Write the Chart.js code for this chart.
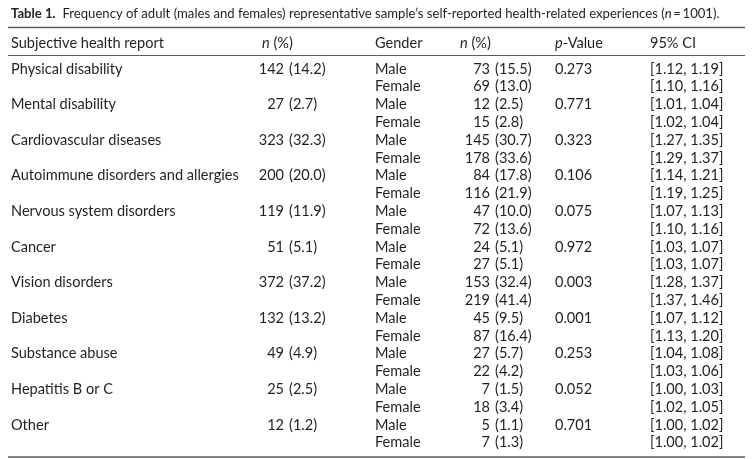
<!DOCTYPE html>
<html>
<head>
<meta charset="utf-8">
<script src="https://cdn.jsdelivr.net/npm/chart.js@4.4.1/dist/chart.umd.min.js"></script>
<style>
html,body{margin:0;padding:0;background:#fff;}
#wrap{width:753px;height:459px;}
canvas{display:block;}
</style>
</head>
<body>
<div id="wrap"><canvas id="c" width="753" height="459"></canvas></div>
<script>
// ---- data ----
const conditions = ['Physical disability','Mental disability','Cardiovascular diseases','Autoimmune disorders and allergies','Nervous system disorders','Cancer','Vision disorders','Diabetes','Substance abuse','Hepatitis B or C','Other'];
const totalCount = [142,27,323,200,119,51,372,132,49,25,12];
const totalPct   = [14.2,2.7,32.3,20.0,11.9,5.1,37.2,13.2,4.9,2.5,1.2];
const genders = ['Male','Female'];
const maleCount  = [73,12,145,84,47,24,153,45,27,7,5];
const malePct    = [15.5,2.5,30.7,17.8,10.0,5.1,32.4,9.5,5.7,1.5,1.1];
const femaleCount= [69,15,178,116,72,27,219,87,22,18,7];
const femalePct  = [13.0,2.8,33.6,21.9,13.6,5.1,41.4,16.4,4.2,3.4,1.3];
const pValues    = [0.273,0.771,0.323,0.106,0.075,0.972,0.003,0.001,0.253,0.052,0.701];
const maleCILow  = [1.12,1.01,1.27,1.14,1.07,1.03,1.28,1.07,1.04,1.00,1.00];
const maleCIHigh = [1.19,1.04,1.35,1.21,1.13,1.07,1.37,1.12,1.08,1.03,1.02];
const femaleCILow  = [1.10,1.02,1.29,1.19,1.10,1.03,1.37,1.13,1.03,1.02,1.00];
const femaleCIHigh = [1.16,1.04,1.37,1.25,1.16,1.07,1.46,1.20,1.06,1.05,1.02];
const sampleSize = 1001;
const headerLabels = ['Subjective health report','n (%)','Gender','n (%)','p-Value','95% CI'];

// ---- build table rows from the arrays ----
const rows = [];
conditions.forEach((c, i) => {
  rows.push({
    id: c + ' | ' + genders[0], cond: c,
    total: [totalCount[i], totalPct[i]], gender: genders[0],
    n: [maleCount[i], malePct[i]], p: pValues[i], ci: [maleCILow[i], maleCIHigh[i]]
  });
  rows.push({
    id: c + ' | ' + genders[1], cond: '',
    total: null, gender: genders[1],
    n: [femaleCount[i], femalePct[i]], p: null, ci: [femaleCILow[i], femaleCIHigh[i]]
  });
});

// ---- layout (pixels / x-scale units) ----
const FONT = 'Lato';
const TEXT = '#231f20';
const RULE = '#5a5a5a';
const COL = { subj: 11, totNumR: 284, totParL: 289, gender: 375, nNumR: 490, nParL: 495, p: 555, ci: 650 };
const Y = { title: 14, topRule: 27.5, header: 43, headRule: 55.5, bottomRule: 457 };
const RULE_X = [8, 745];
const TITLE_RIGHT = 720;

function runs(ctx, parts, x, y, size, measureOnly) {
  let cx = x;
  parts.forEach(p => {
    ctx.font = (p.i ? 'italic ' : '') + (p.b ? 'bold ' : '') + size + 'px ' + FONT;
    if (!measureOnly) ctx.fillText(p.t, cx, y);
    cx += ctx.measureText(p.t).width;
  });
  return cx - x;
}

const tablePlugin = {
  id: 'tableText',
  afterDraw(chart) {
    const ctx = chart.ctx;
    const xs = chart.scales.x, ys = chart.scales.y;
    const X = v => xs.getPixelForValue(v);
    ctx.save();
    // fit font size to the reference width of the first header cell
    ctx.font = '13px ' + FONT;
    const size = +(13 * 153 / ctx.measureText(headerLabels[0]).width).toFixed(2);
    ctx.fillStyle = TEXT;
    ctx.textBaseline = 'middle';
    ctx.textAlign = 'left';

    // title (fitted to the reference title width)
    const titleParts = [
      {t: 'Table 1.', b: true},
      {t: '  Frequency of adult (males and females) representative sample\u2019s self-reported health-related experiences ('},
      {t: 'n', i: true},
      {t: '\u2009=\u2009' + sampleSize + ').'}
    ];
    const tw = runs(ctx, titleParts, 0, 0, size, true);
    const tSize = +(size * Math.min(1, (TITLE_RIGHT - COL.subj) / tw)).toFixed(2);
    runs(ctx, titleParts, X(COL.subj), Y.title, tSize);

    // rules
    ctx.strokeStyle = RULE;
    [[Y.topRule, 1.3], [Y.headRule, 1], [Y.bottomRule, 1.3]].forEach(([yy, lw]) => {
      ctx.lineWidth = lw;
      ctx.beginPath();
      ctx.moveTo(X(RULE_X[0]), yy);
      ctx.lineTo(X(RULE_X[1]), yy);
      ctx.stroke();
    });

    // header
    ctx.fillStyle = TEXT;
    runs(ctx, [{t: headerLabels[0]}], X(COL.subj), Y.header, size);
    runs(ctx, [{t: 'n', i: true}, {t: headerLabels[1].slice(1)}], X(COL.totNumR) - 22, Y.header, size);
    runs(ctx, [{t: headerLabels[2]}], X(COL.gender), Y.header, size);
    runs(ctx, [{t: 'n', i: true}, {t: headerLabels[3].slice(1)}], X(COL.nNumR) - 30, Y.header, size);
    runs(ctx, [{t: 'p', i: true}, {t: headerLabels[4].slice(1)}], X(COL.p), Y.header, size);
    runs(ctx, [{t: headerLabels[5]}], X(COL.ci), Y.header, size);

    // body
    ctx.font = size + 'px ' + FONT;
    rows.forEach((r, i) => {
      const y = ys.getPixelForValue(i);
      ctx.textAlign = 'left';
      if (r.cond) ctx.fillText(r.cond, X(COL.subj), y);
      if (r.total) {
        ctx.textAlign = 'right';
        ctx.fillText(String(r.total[0]), X(COL.totNumR), y);
        ctx.textAlign = 'left';
        ctx.fillText('(' + r.total[1].toFixed(1) + ')', X(COL.totParL), y);
      }
      ctx.fillText(r.gender, X(COL.gender), y);
      ctx.textAlign = 'right';
      ctx.fillText(String(r.n[0]), X(COL.nNumR), y);
      ctx.textAlign = 'left';
      ctx.fillText('(' + r.n[1].toFixed(1) + ')', X(COL.nParL), y);
      if (r.p !== null) ctx.fillText(r.p.toFixed(3), X(COL.p), y);
      ctx.fillText('[' + r.ci[0].toFixed(2) + ', ' + r.ci[1].toFixed(2) + ']', X(COL.ci), y);
    });
    ctx.restore();
  }
};

new Chart(document.getElementById('c'), {
  type: 'bar',
  data: {
    labels: rows.map(r => r.id),
    datasets: [{ label: 'rows', data: rows.map(() => null) }]
  },
  options: {
    indexAxis: 'y',
    responsive: false,
    animation: false,
    devicePixelRatio: 1,
    layout: { padding: { top: 60.1, bottom: 7.3, left: 0, right: 0 } },
    plugins: { legend: { display: false }, tooltip: { enabled: false }, title: { display: false } },
    scales: {
      x: { type: 'linear', min: 0, max: 753, display: false },
      y: { type: 'category', display: false, offset: true }
    }
  },
  plugins: [tablePlugin]
});
</script>
</body>
</html>
